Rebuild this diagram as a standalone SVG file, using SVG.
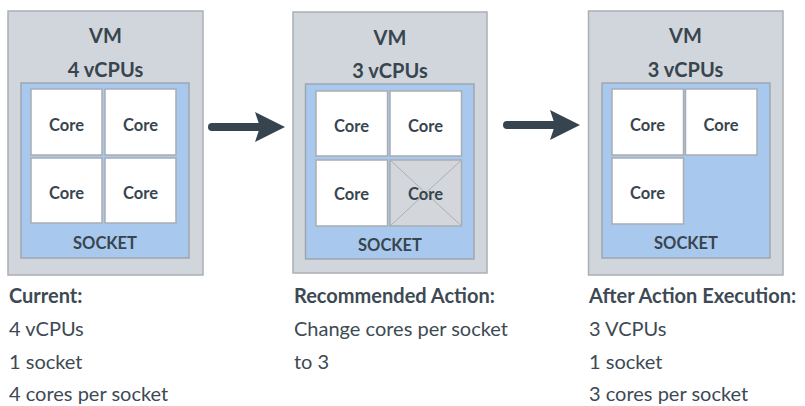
<svg xmlns="http://www.w3.org/2000/svg" width="805" height="406" viewBox="0 0 805 406">
<defs>
<style>
.vm{fill:#d1d6dc;stroke:#abb0b5;stroke-width:1.5}
.sock{fill:#a9c8ee;stroke:#9ea6ae;stroke-width:1.5}
.core{fill:#ffffff;stroke:#a9adb1;stroke-width:1.5}
.gone{fill:#d3d7dc;stroke:#a9adb1;stroke-width:1.5}
.x{stroke:#aab0b6;stroke-width:1}
.t{font-family:Lato,"Liberation Sans",sans-serif;fill:#38454f;text-anchor:middle;font-weight:bold}
.h{font-size:20px}
.c{font-size:16.5px}
.s{font-size:16.5px}
.cap{font-family:Lato,"Liberation Sans",sans-serif;fill:#3d4a54;font-size:20px}
.b{font-weight:bold}
.arr{fill:none;stroke:#36444f;stroke-width:8;stroke-linecap:round}
.head{fill:#36444f}
</style>
</defs>
<g id="vm-current">
<rect class="vm" x="8" y="11" width="195" height="264"/>
<text class="t h" x="105.5" y="43">VM</text>
<text class="t h" x="105.5" y="77">4 vCPUs</text>
<rect class="sock" x="21" y="83" width="168" height="175"/>
<rect class="core" x="31" y="89" width="71" height="66"/>
<rect class="core" x="105" y="89" width="71" height="66"/>
<rect class="core" x="31" y="158" width="71" height="65"/>
<rect class="core" x="105" y="158" width="71" height="65"/>
<text class="t c" x="66.5" y="131">Core</text>
<text class="t c" x="140.5" y="131">Core</text>
<text class="t c" x="66.5" y="199">Core</text>
<text class="t c" x="140.5" y="199">Core</text>
<text class="t s" x="105" y="249">SOCKET</text>
</g>
<g id="vm-recommended">
<rect class="vm" x="293" y="12" width="194" height="261"/>
<text class="t h" x="390" y="45">VM</text>
<text class="t h" x="390" y="78">3 vCPUs</text>
<rect class="sock" x="305.5" y="84" width="168.5" height="175"/>
<rect class="core" x="316" y="91" width="71.5" height="65"/>
<rect class="core" x="390" y="91" width="71.5" height="65"/>
<rect class="core" x="316" y="160" width="71.5" height="66"/>
<rect class="gone" x="390" y="160" width="71.5" height="66"/>
<line class="x" x1="390" y1="160" x2="461.5" y2="226"/>
<line class="x" x1="461.5" y1="160" x2="390" y2="226"/>
<text class="t c" x="351.5" y="132">Core</text>
<text class="t c" x="425.5" y="132">Core</text>
<text class="t c" x="351.5" y="200">Core</text>
<text class="t c" x="425.5" y="200">Core</text>
<text class="t s" x="390" y="251">SOCKET</text>
</g>
<g id="vm-after">
<rect class="vm" x="588.5" y="11" width="194.5" height="264"/>
<text class="t h" x="685.5" y="43">VM</text>
<text class="t h" x="685.5" y="77">3 vCPUs</text>
<rect class="sock" x="602" y="83" width="168" height="175"/>
<rect class="core" x="612" y="89" width="71.5" height="66"/>
<rect class="core" x="685.5" y="89" width="71.5" height="66"/>
<rect class="core" x="612" y="158" width="71.5" height="66"/>
<text class="t c" x="647.5" y="131">Core</text>
<text class="t c" x="721" y="131">Core</text>
<text class="t c" x="647.5" y="199">Core</text>
<text class="t s" x="686" y="249">SOCKET</text>
</g>
<g id="connectors">
<line class="arr" x1="212" y1="127" x2="262" y2="127"/>
<path class="head" d="M255,112 L285,127 L255,142 L260,127 Z"/>
<line class="arr" x1="507" y1="125" x2="557" y2="125"/>
<path class="head" d="M550,110 L580,125 L550,140 L555,125 Z"/>
</g>
<g id="captions">
<text class="cap" x="9" y="303"><tspan class="b">Current:</tspan><tspan x="9" y="336">4 vCPUs</tspan><tspan x="9" y="369">1 socket</tspan><tspan x="9" y="401">4 cores per socket</tspan></text>
<text class="cap" x="294" y="303"><tspan class="b">Recommended Action:</tspan><tspan x="294" y="336">Change cores per socket</tspan><tspan x="294" y="369">to 3</tspan></text>
<text class="cap" x="589" y="303"><tspan class="b">After Action Execution:</tspan><tspan x="589" y="336">3 VCPUs</tspan><tspan x="589" y="369">1 socket</tspan><tspan x="589" y="401">3 cores per socket</tspan></text>
</g>
</svg>
